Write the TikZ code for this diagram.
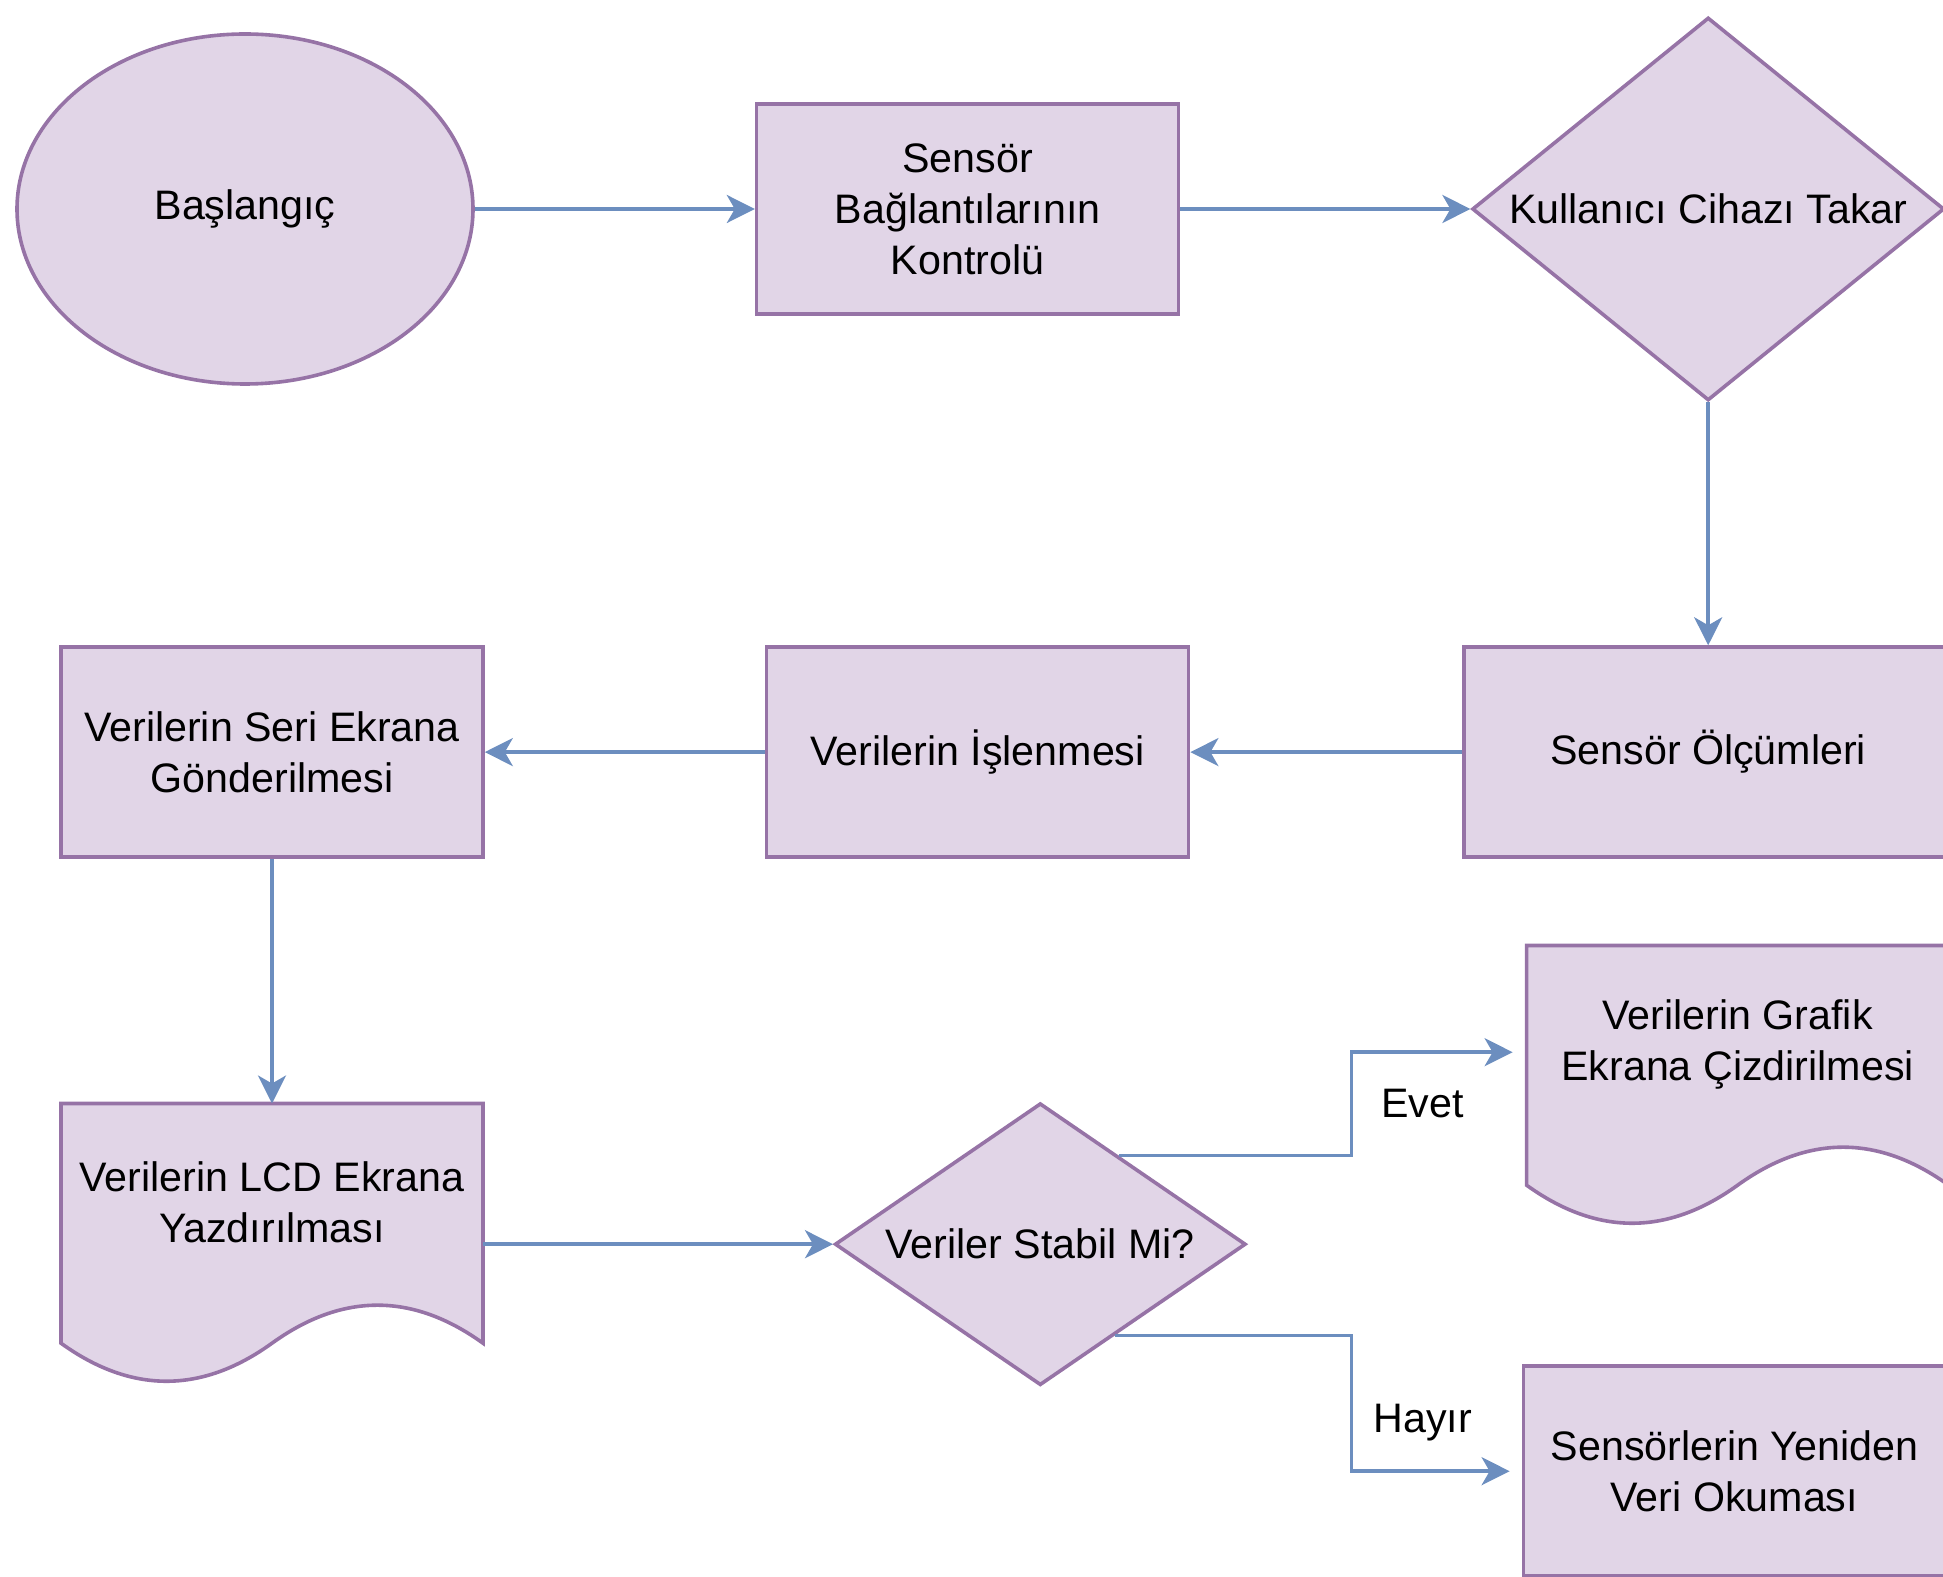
\documentclass[tikz,border=0pt]{standalone}
\usepackage{fontspec}
\setmainfont{Liberation Sans}
\usepackage{tikz}
\usetikzlibrary{
	arrows.meta,
	backgrounds,
	positioning,
	shapes.geometric,
	calc,
}
\definecolor{boxfill}{HTML}{E1D5E7}
\definecolor{boxline}{HTML}{9673A6}
\definecolor{flowline}{HTML}{6C8EBF}

\begin{document}
\begin{tikzpicture}[
	>= {Stealth[length=14pt,width=14pt,inset=4pt]},
	line width=1.8pt,
	text=black,
	font=\fontsize{20.6pt}{25.5pt}\selectfont,
	block/.style={rectangle,draw=boxline,fill=boxfill,minimum width=211pt,minimum height=105pt,inner sep=2pt,align=center},
	decision/.style={diamond,draw=boxline,fill=boxfill,inner sep=0pt,align=center},
	doc/.style={rectangle,minimum width=211pt,minimum height=98.7pt,inner sep=2pt,outer sep=0pt,align=center},
	flow/.style={->,draw=flowline}
	]
	
	\useasboundingbox (0,0) rectangle (971.5pt,-788.5pt);
	
	%% row 1
	\node (start) [ellipse,draw=boxline,fill=boxfill,minimum width=228pt,minimum height=175pt,inner sep=0pt] at (122.5pt,-104.5pt) {Başlangıç};
	\node (ctrl) [block,right=140pt of start] {Sensör\\Bağlantılarının\\Kontrolü};
	\node (takar) [decision,right=145pt of ctrl,minimum width=236pt,minimum height=191.5pt,shape aspect=1.23] {Kullanıcı Cihazı Takar};
	
	%% row 2
	\node (olcum) [block,below=121.5pt of takar,minimum width=244pt] {Sensör Ölçümleri};
	\node (islem) [block,left=136pt of olcum] {Verilerin İşlenmesi};
	\node (seri) [block,left=140pt of islem] {Verilerin Seri Ekrana\\Gönderilmesi};
	
	%% row 3
	\node (lcd) [doc,below=122.3pt of seri] {Verilerin LCD Ekrana\\Yazdırılması};
	\node (stabil) [decision,right=175pt of lcd,yshift=-21pt,minimum width=205.5pt,minimum height=141pt,shape aspect=1.46] {Veriler Stabil Mi?};
	\node (grafik) [doc,right=139.5pt of stabil,yshift=100pt] {Verilerin Grafik\\Ekrana Çizdirilmesi};
	\node (yeniden) [block,right=137pt of stabil,yshift=-113.5pt] {Sensörlerin Yeniden\\Veri Okuması};
	
	%% document outlines behind the texts
	\begin{scope}[on background layer]
		\foreach \d in {lcd,grafik}
		\draw[draw=boxline,fill=boxfill,line width=1.8pt] (\d.north west) -- (\d.north east)
			-- ([yshift=-21.15pt]\d.south east)
			.. controls ([xshift=-35.17pt,yshift=4.2pt]\d.south east) and ([xshift=35.17pt,yshift=4.2pt]\d.south) .. ([yshift=-21.15pt]\d.south)
			.. controls ([xshift=-35.17pt,yshift=-46.5pt]\d.south) and ([xshift=35.17pt,yshift=-46.5pt]\d.south west) .. ([yshift=-21.15pt]\d.south west)
			-- cycle;
	\end{scope}
	
	%% main flow
	\draw[flow] (start) -- (ctrl);
	\draw[flow] (ctrl) -- (takar);
	\draw[flow] (takar) -- (olcum);
	\draw[flow] (olcum) -- (islem);
	\draw[flow] (islem) -- (seri);
	\draw[flow] (seri) -- (lcd);
	\draw[flow] (lcd.east |- stabil.west) -- (stabil.west);
	
	%% branches
	\coordinate (evetout) at ($(stabil.east)!0.62!(stabil.north)$);
	\coordinate (hayirout) at ($(stabil.east)!0.64!(stabil.south)$);
	\coordinate (evetend) at ([xshift=-7pt,yshift=-4pt]grafik.west);
	\coordinate (hayirend) at ([xshift=-6pt]yeniden.west);
	\coordinate (split) at ([xshift=-87.5pt]grafik.west);
	\draw[flow] (evetout) -| (split |- evetend) -- (evetend);
	\draw[flow] (hayirout) -| (split |- hayirend) -- (hayirend);
	\node (evet) [anchor=base] at ([xshift=-52pt,yshift=-36.5pt]grafik.west) {Evet};
	\node (hayir) [anchor=base] at ([xshift=-49.5pt,yshift=19.25pt]yeniden.west) {Hayır};
	
\end{tikzpicture}
\end{document}
